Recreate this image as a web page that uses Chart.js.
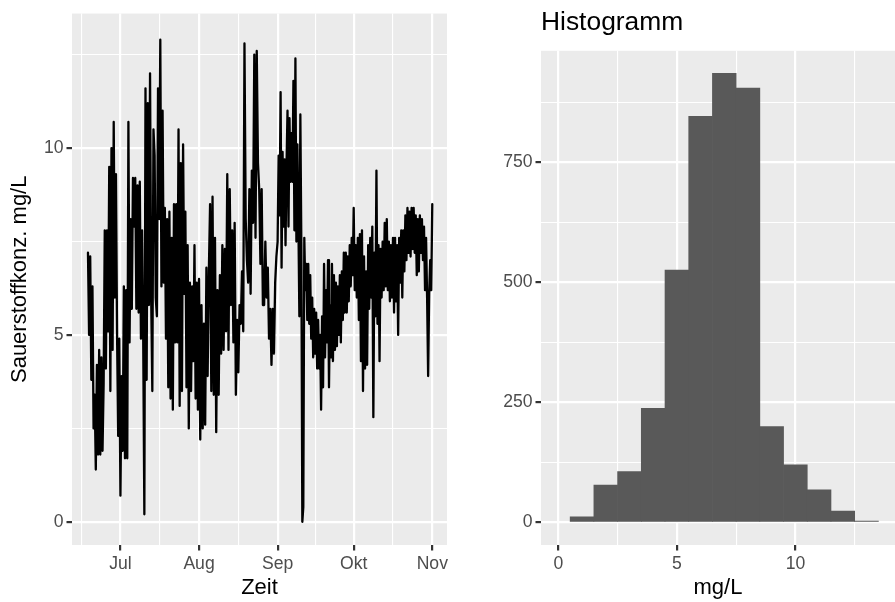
<!DOCTYPE html>
<html lang="de">
<head>
<meta charset="utf-8">
<title>Sauerstoffkonzentration</title>
<script src="https://cdn.jsdelivr.net/npm/chart.js@4.4.0/dist/chart.umd.min.js"></script>
<style>
  html, body { margin: 0; padding: 0; background: #fff; }
  #wrap { position: relative; width: 895px; height: 602px; overflow: hidden; }
  canvas { position: absolute; top: 0; }
  #zeitreihe { left: 0; }
  #histo { left: 460px; }
</style>
</head>
<body>
<div id="wrap">
  <canvas id="zeitreihe" width="460" height="602"></canvas>
  <canvas id="histo" width="435" height="602"></canvas>
</div>
<script>
// ============================================================
//  Sauerstoff — Zeitreihe + Histogramm
// ============================================================

const juni = [7.2, 5.0, 7.1, 3.8, 6.3, 2.5, 3.4, 1.4, 4.2, 1.8, 4.6, 1.8, 4.4, 1.9, 3.7, 7.8, 4.1, 7.8, 5.1, 9.5,
  3.5, 10.0, 4.6, 10.7, 6.0, 9.3, 5.0, 2.3, 4.9];
const juli = [0.7, 3.9, 1.9, 6.3, 1.7, 6.2, 1.7, 10.7, 4.8, 8.1, 5.7, 9.2, 7.9, 9.2, 5.7, 9.0, 5.6, 9.1, 4.9, 7.8,
  4.9, 0.2, 11.6, 3.8, 11.2, 5.8, 12.0, 6.0, 3.5, 10.5, 9.8, 6.0, 5.5, 11.6, 8.1, 12.9, 6.3, 11.0, 6.4, 8.4,
  4.9, 8.1, 3.6, 8.3, 3.3, 7.6, 3.0, 8.5, 4.8, 8.5, 4.8, 10.5, 3.1, 9.6, 3.5, 10.1, 6.1, 8.3, 3.6, 7.4,
  2.5, 6.4, 3.5, 6.3, 4.3, 7.4, 3.3, 6.4, 3.0];
const august = [6.5, 2.2, 5.8, 2.5, 5.3, 2.6, 6.8, 3.9, 6.7, 8.5, 3.5, 8.7, 3.4, 7.6, 2.4, 6.2, 3.4, 6.6, 4.5, 7.4,
  4.6, 7.3, 5.1, 9.3, 4.6, 8.9, 5.8, 7.8, 4.8, 8.0, 3.4, 5.4, 4.0, 5.8, 5.3, 6.7, 5.1, 12.8, 8.1, 7.0,
  6.4, 8.9, 6.1, 9.4, 8.0, 12.5, 7.6, 12.6, 9.6, 8.9, 6.9, 8.9, 5.8, 5.8, 7.5, 6.0, 6.8, 4.9, 5.7, 4.2,
  5.7, 4.5, 6.4, 7.1];
const september = [7.5, 9.8, 8.2, 11.5, 6.8, 9.9, 7.9, 9.7, 7.4, 9.5, 11.0, 7.9, 10.8, 9.1, 10.4, 9.1, 11.8, 7.8, 12.4, 7.5,
  10.1, 8.1, 5.5, 10.9, 7.4, 0.0, 0.4, 7.6, 6.2, 6.9, 5.4, 6.9, 5.3, 6.6, 4.9, 6.0, 4.4, 5.7, 4.5, 5.6,
  4.1, 5.4, 4.1, 5.0, 3.0, 5.5, 3.6, 6.9, 4.4, 6.2, 4.8, 7.0, 3.6, 5.8, 4.4, 6.9, 4.3, 6.6, 4.6, 6.4,
  4.7, 6.3, 5.0, 6.6, 4.8, 6.7, 5.4, 7.2, 5.6, 7.2, 5.6, 7.1, 5.9, 7.4, 6.3, 7.6, 6.6];
const oktober = [8.4, 6.2, 7.4, 6.0, 7.6, 5.4, 7.7, 4.3, 7.8, 3.5, 7.1, 4.1, 6.7, 4.2, 7.4, 5.7, 7.6, 6.0, 7.9, 2.8,
  7.2, 5.5, 9.4, 5.3, 7.4, 4.3, 7.3, 6.0, 7.5, 6.2, 8.0, 6.3, 8.1, 6.2, 7.5, 5.9, 7.4, 6.0, 7.6, 5.6,
  7.6, 5.9, 7.4, 5.0, 7.6, 6.4, 7.8, 6.0, 7.8, 6.7, 8.2, 7.0, 8.4, 7.2, 8.3, 7.1, 8.4, 7.3, 8.4, 7.2,
  8.2, 6.6, 8.1, 6.7, 8.2, 7.2, 8.1, 7.0, 7.9, 6.2, 7.6, 6.0, 3.9, 6.1, 7.0, 6.2, 8.5];

// Zeitraum je Abschnitt in Tagen ab 1. Juli
const abschnitte = [
  [juni, -12.8, 0],
  [juli, 0, 31],
  [august, 31, 62],
  [september, 62, 92],
  [oktober, 92, 123.4]
];

// ── Achsenbeschriftung Zeit
const monate    = ['Jul', 'Aug', 'Sep', 'Okt', 'Nov'];
const monatTage = [0, 31, 62, 92, 123];
const zeitMinor = [-15.5, 15.5, 46.5, 77, 107.5];
const o2Major   = [0, 5, 10];
const o2Minor   = [2.5, 7.5, 12.5];

// ── Histogramm
const binMitte = [1, 2, 3, 4, 5, 6, 7, 8, 9, 10, 11, 12, 13];
const anzahl   = [12, 78, 106, 238, 526, 846, 936, 905, 200, 120, 68, 24, 3];
const mgMajor  = [0, 5, 10];
const mgMinor  = [2.5, 7.5, 12.5];
const nMajor   = [0, 250, 500, 750];
const nMinor   = [125, 375, 625, 875];

// ── Stil (ggplot theme_gray)
const FONT      = '"Liberation Sans", Arial, Helvetica, sans-serif';
const TICK_COL  = '#4D4D4D';
const PANEL_COL = '#EBEBEB';
Chart.defaults.font.family = FONT;

const panelHintergrund = {
  id: 'panelHintergrund',
  beforeDraw(chart) {
    const { ctx, chartArea: a } = chart;
    ctx.save();
    ctx.fillStyle = PANEL_COL;
    ctx.fillRect(a.left, a.top, a.right - a.left, a.bottom - a.top);
    ctx.restore();
  }
};

// Achse mit festen Haupt- und Nebenlinien
function achse(major, minor, label, extra) {
  const isMajor = v => major.includes(v);
  return Object.assign({
    type: 'linear',
    offset: false,
    afterBuildTicks: s => { s.ticks = major.concat(minor).sort((a, b) => a - b).map(v => ({ value: v })); },
    ticks: {
      autoSkip: false, maxRotation: 0, color: TICK_COL, padding: 3,
      font: { size: 17.6 },
      callback: v => isMajor(v) ? label(v) : ''
    },
    grid: {
      offset: false,
      color: '#FFFFFF',
      lineWidth: c => c.tick && isMajor(c.tick.value) ? 2.2 : 1.1,
      tickColor: c => c.tick && isMajor(c.tick.value) ? '#333333' : 'rgba(0,0,0,0)',
      tickWidth: 2.2,
      tickLength: 5.5
    },
    border: { display: false }
  }, extra);
}

// ── Zeitreihe
const punkte = [];
abschnitte.forEach(([werte, von, bis]) => {
  const schritt = (bis - von) / werte.length;
  werte.forEach((w, i) => punkte.push({ x: von + i * schritt, y: w }));
});

new Chart(document.getElementById('zeitreihe'), {
  type: 'line',
  data: { datasets: [{ data: punkte, borderColor: '#000000', borderWidth: 2.3, pointRadius: 0,
    tension: 0, fill: false, borderJoinStyle: 'round', borderCapStyle: 'round' }] },
  options: {
    responsive: false, animation: false, parsing: false,
    layout: { padding: { top: 12, right: 13, left: 0, bottom: 0 } },
    plugins: { legend: { display: false }, tooltip: { enabled: false } },
    scales: {
      x: achse(monatTage, zeitMinor, v => monate[monatTage.indexOf(v)], {
        min: -19.1, max: 128.8,
        afterFit: s => { s.height = 57; },
        title: { display: true, text: 'Zeit', color: '#000', font: { size: 22 }, padding: { top: 0, bottom: 0.5 } }
      }),
      y: achse(o2Major, o2Minor, v => String(v), {
        min: -0.62, max: 13.6,
        afterFit: s => { s.width = 72; },
        title: { display: true, text: 'Sauerstoffkonz. mg/L', color: '#000', font: { size: 22 }, padding: { top: 7, bottom: 0 } }
      })
    }
  },
  plugins: [panelHintergrund]
});

// ── Histogramm
new Chart(document.getElementById('histo'), {
  type: 'bar',
  data: { datasets: [{ data: binMitte.map((x, i) => ({ x, y: anzahl[i] })), backgroundColor: '#595959',
    borderWidth: 0, barPercentage: 1, categoryPercentage: 1 }] },
  options: {
    responsive: false, animation: false,
    layout: { padding: 0 },
    plugins: {
      legend: { display: false }, tooltip: { enabled: false },
      title: { display: true, text: 'Histogramm', align: 'start', fullSize: false, color: '#000',
        font: { size: 26.4, weight: 'normal' }, padding: { top: 7, bottom: 12.1 } }
    },
    scales: {
      x: achse(mgMajor, mgMinor, v => String(v), {
        min: -0.73, max: 14.2,
        afterFit: s => { s.height = 57; },
        title: { display: true, text: 'mg/L', color: '#000', font: { size: 22 }, padding: { top: 0, bottom: 0.5 } }
      }),
      y: achse(nMajor, nMinor, v => String(v), {
        min: -46.8, max: 982.8,
        afterFit: s => { s.width = 81; }
      })
    }
  },
  plugins: [panelHintergrund]
});
</script>
</body>
</html>
